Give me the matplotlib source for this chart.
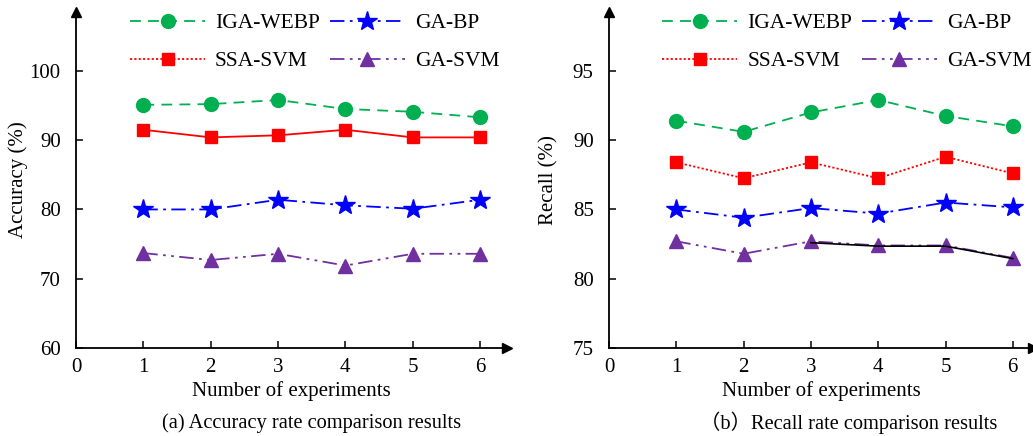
import numpy as np
import matplotlib
matplotlib.use("Agg")
import matplotlib.pyplot as plt
from matplotlib.lines import Line2D

plt.rcParams["font.family"] = ["Liberation Serif", "DejaVu Serif"]

experiments = [1, 2, 3, 4, 5, 6]

# (a) accuracy, %
acc_iga = [95.1, 95.2, 95.8, 94.5, 94.1, 93.3]
acc_ssa = [91.5, 90.4, 90.7, 91.5, 90.4, 90.4]
acc_gabp = [80.0, 80.0, 81.4, 80.6, 80.1, 81.4]
acc_gasvm = [73.7, 72.7, 73.6, 71.9, 73.6, 73.6]

# (b) recall, %
rec_iga = [91.4, 90.6, 92.0, 92.9, 91.75, 91.0]
rec_ssa = [88.4, 87.25, 88.4, 87.25, 88.8, 87.6]
rec_gabp = [85.0, 84.4, 85.1, 84.7, 85.5, 85.15]
rec_gasvm = [82.7, 81.8, 82.7, 82.4, 82.4, 81.5]
# stray black segment in (b), experiments 3-6
rec_black_x = [3, 4, 5, 6]
rec_black = [82.6, 82.35, 82.35, 81.45]

GREEN = "#00B050"
RED = "#FF0000"
BLUE = "#0000FF"
PURPLE = "#7030A0"

DASH = (0, (6, 4))
DASHDOT = (0, (8, 3, 1.5, 3))
DOT = (0, (1.2, 1.2))
DASHDOTDOT = (0, (8, 3, 1.5, 3, 1.5, 3))

fig = plt.figure(figsize=(10.33, 4.36), dpi=100)
ax1 = fig.add_axes([76 / 1033, 88 / 436, 431 / 1033, 336 / 436])
ax2 = fig.add_axes([609 / 1033, 88 / 436, 424 / 1033, 336 / 436])


def style_axis(ax, ylo, yhi, yticks, xhi):
    ax.set_xlim(0, xhi)
    ax.set_ylim(ylo, yhi)
    ax.set_xticks(range(0, 7))
    ax.set_yticks(yticks)
    for s in ["top", "right"]:
        ax.spines[s].set_visible(False)
    ax.spines["left"].set_linewidth(1.3)
    ax.spines["bottom"].set_linewidth(1.3)
    ax.tick_params(direction="in", length=5, width=1.1, labelsize=15,
                   pad=7)
    ax.tick_params(axis="y", pad=11)
    ax.plot(1, 0, ">k", ms=7, transform=ax.transAxes, clip_on=False)
    ax.plot(0, 1, "^k", ms=7, transform=ax.transAxes, clip_on=False)
    ax.set_xlabel("Number of experiments", fontsize=15, labelpad=3)


def draw(ax, iga, ssa, gabp, gasvm, ssa_ls):
    ax.plot(experiments, iga, color=GREEN, ls=DASH, lw=1.3, marker="o",
            ms=10, zorder=3)
    ax.plot(experiments, ssa, color=RED, ls=ssa_ls, lw=1.3, marker="s",
            ms=9, zorder=3)
    ax.plot(experiments, gabp, color=BLUE, ls=DASHDOT, lw=1.3, marker="*",
            ms=15, zorder=3)
    ax.plot(experiments, gasvm, color=PURPLE, ls=DASHDOTDOT, lw=1.3,
            marker="^", ms=10, zorder=3)


def legend(ax):
    handles = [
        Line2D([], [], color=GREEN, ls=DASH, lw=1.3, marker="o", ms=10),
        Line2D([], [], color=RED, ls=DOT, lw=1.3, marker="s", ms=9),
        Line2D([], [], color=BLUE, ls=DASHDOT, lw=1.3, marker="*", ms=15),
        Line2D([], [], color=PURPLE, ls=DASHDOTDOT, lw=1.3, marker="^", ms=10),
    ]
    labels = ["IGA-WEBP", "SSA-SVM", "GA-BP", "GA-SVM"]
    ax.legend(handles, labels, ncol=2, frameon=False, fontsize=15.5,
              handlelength=3.5, handletextpad=0.46, columnspacing=0.45,
              labelspacing=0.84, loc="upper left", borderpad=0,
              borderaxespad=0, bbox_to_anchor=(0.125, 0.997))


draw(ax1, acc_iga, acc_ssa, acc_gabp, acc_gasvm, "-")
style_axis(ax1, 60, 108.5, [60, 70, 80, 90, 100], 6.4)
ax1.set_ylabel("Accuracy (%)", fontsize=15, labelpad=1)
legend(ax1)

draw(ax2, rec_iga, rec_ssa, rec_gabp, rec_gasvm, DOT)
ax2.plot(rec_black_x, rec_black, color="black", lw=1.2, zorder=4)
style_axis(ax2, 75, 99.25, [75, 80, 85, 90, 95], 6.3)
ax2.set_ylabel("Recall (%)", fontsize=15, labelpad=10)
legend(ax2)

fig.text(312 / 1033, 1 - 423 / 436, "(a) Accuracy rate comparison results",
         ha="center", va="center", fontsize=14.7)
fig.text(849 / 1033, 1 - 423 / 436, "\uff08b\uff09Recall rate comparison results",
         ha="center", va="center", fontsize=14.7,
         family=["Liberation Serif", "Noto Sans CJK SC"])

fig.savefig("out.png", dpi=100)
